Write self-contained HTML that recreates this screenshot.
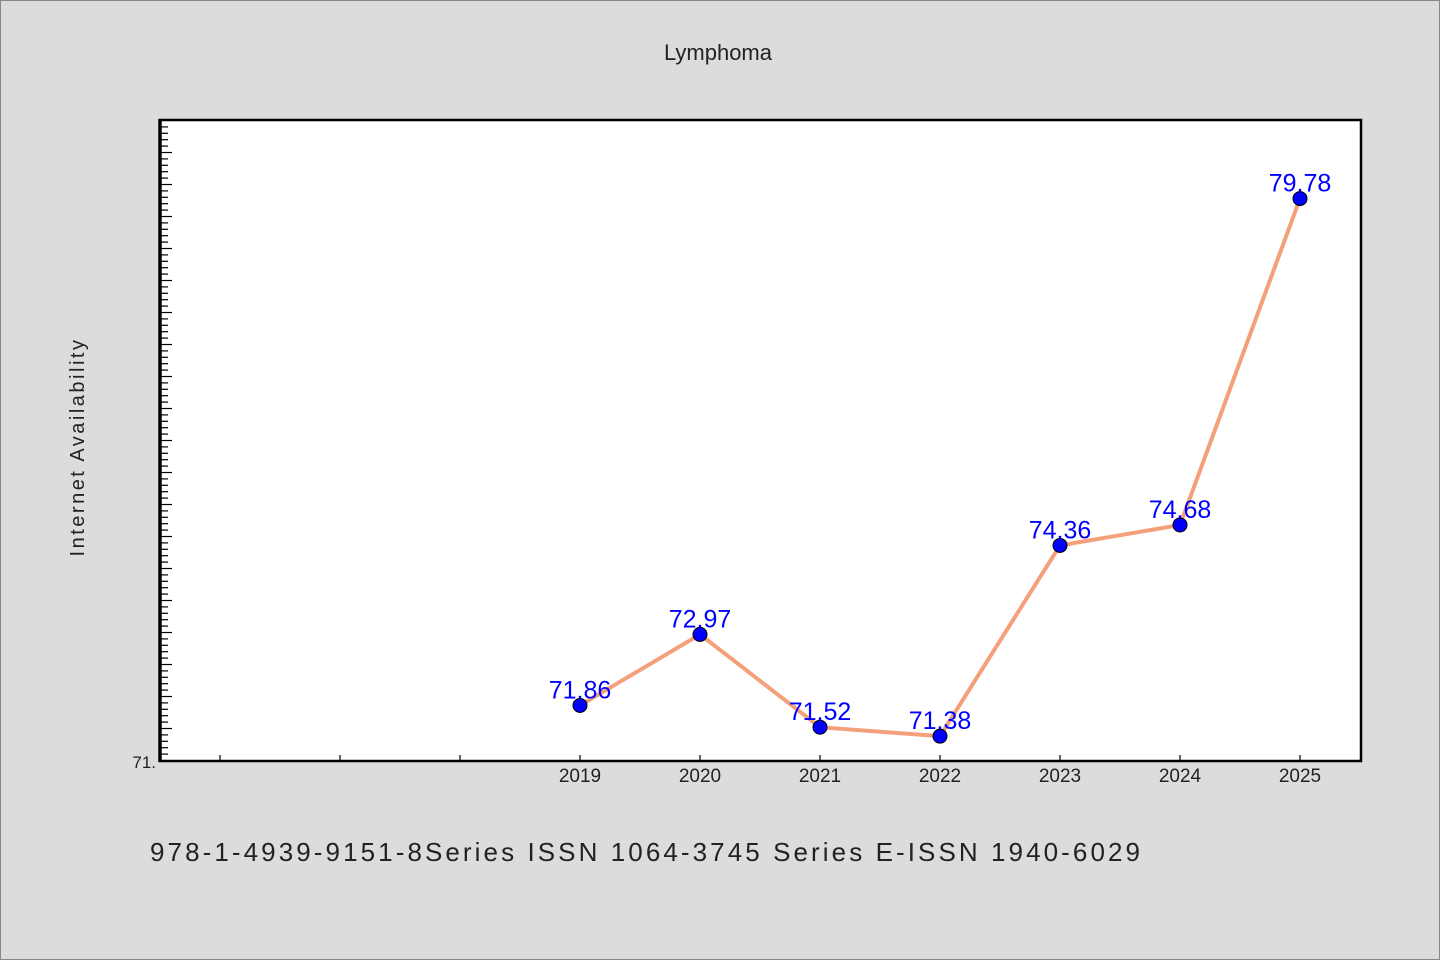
<!DOCTYPE html>
<html><head><meta charset="utf-8"><style>
html,body{margin:0;padding:0;background:#dcdcdc;}
svg{display:block;}
text{font-family:"Liberation Sans","WenQuanYi Zen Hei",sans-serif;}
</style></head><body>
<svg width="1440" height="960" viewBox="0 0 1440 960">
<rect x="0.5" y="0.5" width="1439" height="959" fill="#dcdcdc" stroke="#888"/>
<text x="718" y="60" text-anchor="middle" font-size="22" fill="#222">Lymphoma</text>
<rect x="160" y="120" width="1201" height="641" fill="#fff"/>
<g id="yticks"></g>
<g id="xticks"></g>
<g id="series"></g>
<rect x="160" y="120" width="1201" height="641" fill="none" stroke="#000" stroke-width="2.5"/>
<line x1="160" y1="119" x2="160" y2="762" stroke="#000" stroke-width="3.5"/>
<text x="156" y="768" text-anchor="end" font-size="17" fill="#222">71.</text>
<text transform="translate(84,447) rotate(-90)" text-anchor="middle" font-size="20" letter-spacing="2.5" fill="#222">Internet Availability</text>
<text x="150" y="861" font-size="26" font-family="Liberation Mono,monospace" fill="#222" textLength="990">978-1-4939-9151-8Series ISSN 1064-3745 Series E-ISSN 1940-6029</text>
</svg>
<script>
const years = [2019, 2020, 2021, 2022, 2023, 2024, 2025];
const values = [71.86, 72.97, 71.52, 71.38, 74.36, 74.68, 79.78];
const labels = ["71.86", "72.97", "71.52", "71.38", "74.36", "74.68", "79.78"];
const NS = "http://www.w3.org/2000/svg";
const yMin = 71, yMax = 81.03;
function y(v){ return 760.5 - (v - yMin) * 64; }
function x(yr){ return 580 + (yr - 2019) * 120; }
function el(tag, attrs, parent){ const e = document.createElementNS(NS, tag); for (const k in attrs) e.setAttribute(k, attrs[k]); parent.appendChild(e); return e; }
const yt = document.getElementById('yticks');
for (let i = 1; i * 0.1 + yMin < yMax - 0.05; i++) {
  const v = yMin + i * 0.1;
  const major = i % 5 === 0;
  const t = el('line', {x1:160, x2: major ? 172 : 168, y1: y(v), y2: y(v), stroke:'#000', 'stroke-width':1.2}, yt);
  
  
}
const xt = document.getElementById('xticks');
for (let yr = 2016; yr <= 2025; yr++) {
  const t = el('line', {x1:x(yr), x2:x(yr), y1:761, y2:755, stroke:'#000', 'stroke-width':1.2}, xt);
  
  
}
years.forEach(yr => {
  const t = el('text', {x:x(yr), y:782, 'text-anchor':'middle', 'font-size':19, fill:'#222'}, xt);
  t.textContent = yr;
  
  
});
const s = document.getElementById('series');
const pl = el('polyline', {points: years.map((yr,i)=>x(yr)+','+y(values[i])).join(' '), fill:'none', stroke:'#f4a07a', 'stroke-width':4}, s);


years.forEach((yr,i) => {
  const c = el('circle', {cx:x(yr), cy:y(values[i]), r:7, fill:'#0000ff', stroke:'#000', 'stroke-width':1}, s);
  
  
  const t = el('text', {x:x(yr), y:y(values[i]) - 7, 'text-anchor':'middle', 'font-size':25, fill:'#0000ff'}, s);
  t.textContent = labels[i];
  
  
});
</script>
</body></html>
